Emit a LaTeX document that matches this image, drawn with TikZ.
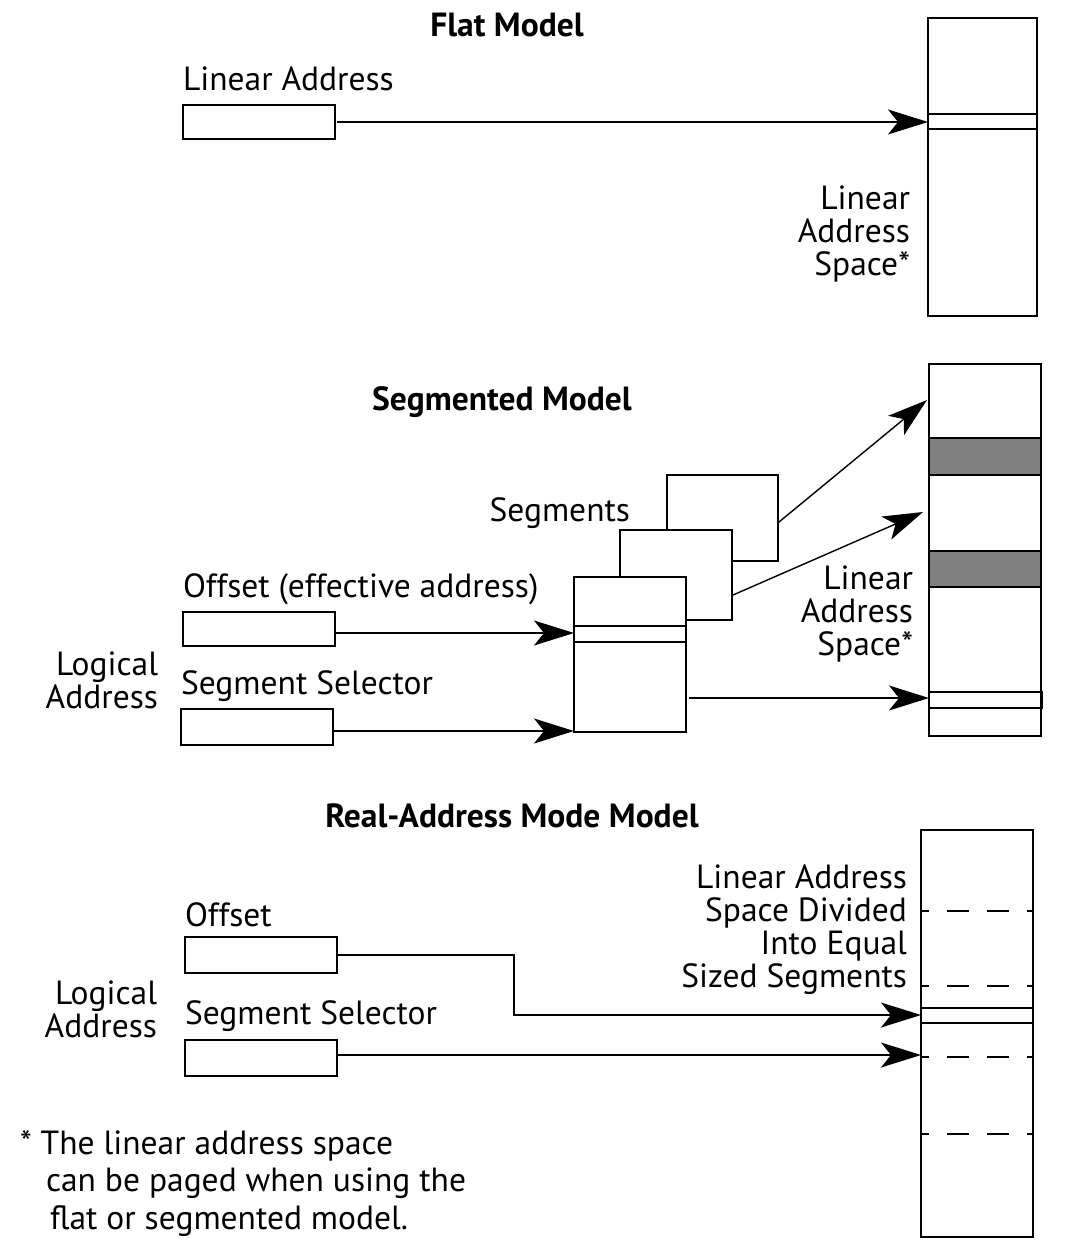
\documentclass[tikz,border=0pt]{standalone}
\usepackage{fontspec}
\setmainfont{PT Sans}
\usetikzlibrary{arrows.meta}
\begin{document}
\begin{tikzpicture}[x=1pt,y=-1pt,
  every node/.style={inner sep=0pt,outer sep=0pt,font=\fontsize{33.5}{33}\selectfont},
  ttl/.style={font=\fontsize{33.5}{33}\selectfont\bfseries},
  lbl/.style={anchor=base west},
  rlbl/.style={anchor=base east,align=right},
  abox/.style={draw,line width=1.8pt,minimum width=152pt,minimum height=34pt,anchor=north west},
  space/.style={draw,line width=2pt,anchor=north west},
  seg/.style={draw,line width=2pt,fill=white,anchor=north west},
  inner/.style={line width=1.5pt},
  conn/.style={line width=1.4pt},
  arr/.style={conn,-{Stealth[length=40pt,width=25pt,inset=10pt]}},
  gray/.style={fill=black!50,draw,line width=2pt}
]
\useasboundingbox (0,0) rectangle (1086,1244);

% ---------- Flat model
\node[ttl,anchor=base] (t1) at (507,37) {Flat Model};
\node[lbl] (la1) at (183,91) {Linear Address};
\node[abox] (b1) at (183,105) {};
\node[space,minimum width=109pt,minimum height=298pt] (s1) at (928,18) {};
\draw[inner] (928,114) -- (1037,114);
\draw[inner] (928,129) -- (1037,129);
\coordinate (s1in) at (928,122);
\draw[arr] (b1.east |- s1in) ++(2,0) -- (s1in);
\node[rlbl] (las1) at (910,275) {Linear\\Address\\Space*};

% ---------- Segmented model
\node[ttl,anchor=base] (t2) at (502,410) {Segmented Model};
\node[space,minimum width=112pt,minimum height=372pt] (s2) at (929,364) {};
\draw[gray] (929,438) rectangle (1041,475);
\draw[gray] (929,551) rectangle (1041,587);
\node[draw,line width=2pt,anchor=north west,minimum width=113pt,minimum height=16pt] (sel2) at (929,692) {};
\node[seg,minimum width=111pt,minimum height=86pt] (g3) at (667,475) {};
\node[seg,minimum width=112pt,minimum height=90pt] (g2) at (620,530) {};
\node[seg,minimum width=112pt,minimum height=155pt] (g1) at (574,577) {};
\draw[inner] (574,626) -- (686,626);
\draw[inner] (574,642) -- (686,642);
\node[lbl,anchor=base east] (segl) at (630,521) {Segments};
\coordinate (g3o) at (779,522);
\coordinate (g3t) at (927,400);
\draw[arr] (g3o) -- (g3t);
\coordinate (g2o) at (733,595);
\coordinate (g2t) at (923,512);
\draw[arr] (g2o) -- (g2t);
\coordinate (g1o) at (689,698);
\draw[arr] (g1o) -- (sel2.west |- g1o);
\node[lbl] (off2) at (183,597) {Offset (effective address)};
\node[abox] (ob2) at (183,612) {};
\coordinate (g1a) at (574,633);
\draw[arr] (ob2.east |- g1a) -- (g1a);
\node[rlbl] (log2) at (158,708) {Logical\\Address};
\node[lbl] (ss2) at (181,694) {Segment Selector};
\node[abox,minimum height=36pt] (sb2) at (181,709) {};
\coordinate (g1b) at (574,731);
\draw[arr] (sb2.east |- g1b) -- (g1b);
\node[rlbl] (las2) at (913,655) {Linear\\Address\\Space*};

% ---------- Real-address mode model
\node[ttl,anchor=base] (t3) at (512,827) {Real-Address Mode Model};
\node[space,minimum width=112pt,minimum height=407pt] (s3) at (921,830) {};
\foreach \yy in {911,986,1057,1134}
  \draw[line width=1.3pt,dash pattern=on 22pt off 18pt,dash phase=14pt] (921,\yy) -- (1033,\yy);
\draw[inner] (921,1008) -- (1033,1008);
\draw[inner] (921,1023) -- (1033,1023);
\node[rlbl] (lasd) at (907,987) {Linear Address\\Space Divided\\Into Equal\\Sized Segments};
\node[lbl] (off3) at (185,926) {Offset};
\node[abox,minimum height=36pt] (ob3) at (185,937) {};
\node[rlbl] (log3) at (157,1037) {Logical\\Address};
\node[lbl] (ss3) at (185,1024) {Segment Selector};
\node[abox,minimum height=36pt] (sb3) at (185,1040) {};
\coordinate (s3a) at (921,1015);
\coordinate (s3b) at (921,1055);
\draw[arr] (ob3.east) -| (514,1015) -- (s3a);
\draw[arr] (sb3.east |- s3b) -- (s3b);

% ---------- footnote
\node[anchor=base west,align=left,font=\fontsize{33.5}{37.5}\selectfont] (fn) at (20,1229) {* The linear address space\\\hspace*{26pt}can be paged when using the\\\hspace*{30pt}flat or segmented model.};
\end{tikzpicture}
\end{document}
